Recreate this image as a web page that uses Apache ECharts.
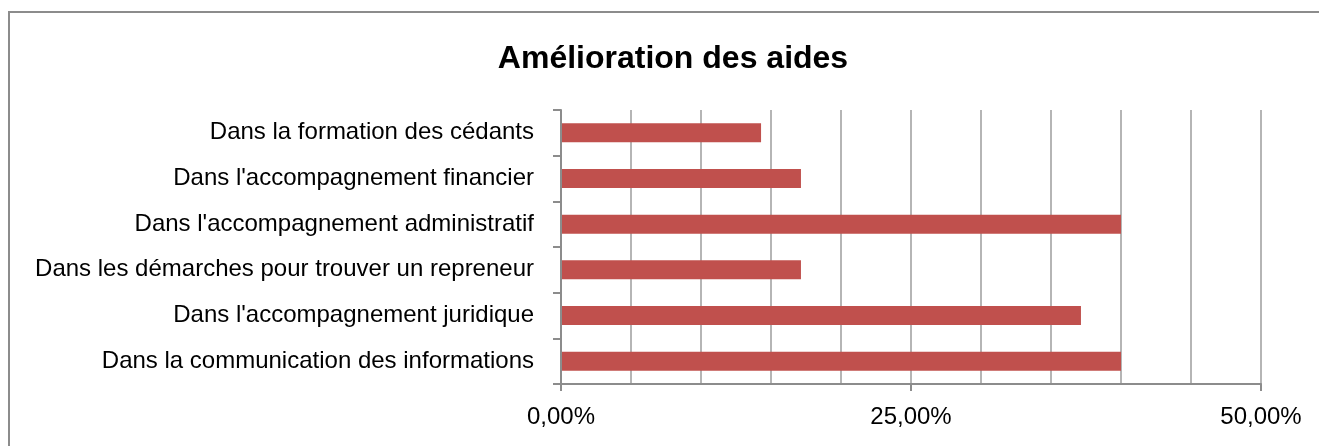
<!DOCTYPE html>
<html>
<head>
<meta charset="utf-8">
<script src="https://cdn.jsdelivr.net/npm/echarts@6/dist/echarts.min.js"></script>
<style>
  html, body { margin: 0; padding: 0; background: #fff; }
  #chart { width: 1319px; height: 446px; }
</style>
</head>
<body>
<div id="chart"></div>
<script>
// Amélioration des aides — share of respondents per improvement area (n = 35)
const categories = [
  'Dans la formation des cédants',
  "Dans l'accompagnement financier",
  "Dans l'accompagnement administratif",
  'Dans les démarches pour trouver un repreneur',
  "Dans l'accompagnement juridique",
  'Dans la communication des informations'
];
const shares = [14.29, 17.14, 40.0, 17.14, 37.14, 40.0];

const FONT = '"Liberation Sans", Arial, sans-serif';
const AXIS_GREY = '#8c8c8c';

const chart = echarts.init(document.getElementById('chart'), null, { renderer: 'canvas' });
chart.setOption({
  animation: false,
  backgroundColor: '#fff',
  graphic: [{
    type: 'rect',
    shape: { x: 9, y: 12, width: 1340, height: 460 },
    style: { fill: 'none', stroke: AXIS_GREY, lineWidth: 2 },
    silent: true
  }],
  title: {
    text: 'Amélioration des aides',
    left: 668, top: 38, textAlign: 'center',
    textStyle: { fontFamily: FONT, fontWeight: 'bold', fontSize: 32, color: '#000' }
  },
  grid: { left: 561, right: 58, top: 110, bottom: 62, containLabel: false },
  xAxis: [{
    // labelled axis: 0 / 25 / 50 %
    type: 'value',
    min: 0, max: 50, interval: 25,
    axisLine: { show: true, lineStyle: { color: AXIS_GREY, width: 2 } },
    axisTick: { show: true, length: 7, lineStyle: { color: AXIS_GREY, width: 2 } },
    axisLabel: {
      margin: 21,
      fontFamily: FONT, fontSize: 24, color: '#000',
      formatter: v => v.toFixed(2).replace('.', ',') + '%'
    },
    splitLine: { show: false },
    z: 3
  }, {
    // gridlines every 5 %
    type: 'value',
    position: 'bottom',
    min: 0, max: 50, interval: 5,
    axisLine: { show: false },
    axisTick: { show: false },
    axisLabel: { show: false },
    splitLine: { show: true, lineStyle: { color: '#b5b5b5', width: 2 } }
  }],
  yAxis: {
    type: 'category',
    data: categories,
    inverse: true,
    axisLine: { show: true, lineStyle: { color: AXIS_GREY, width: 2 } },
    axisTick: { show: true, length: 8, lineStyle: { color: AXIS_GREY, width: 2 } },
    axisLabel: { margin: 27, fontFamily: FONT, fontSize: 24, color: '#000', padding: [3, 0, 0, 0] },
    splitLine: { show: false },
    z: 3
  },
  series: [{
    type: 'bar',
    data: shares,
    barWidth: 19,
    itemStyle: { color: '#c0504d' },
    silent: true
  }]
});
</script>
</body>
</html>
